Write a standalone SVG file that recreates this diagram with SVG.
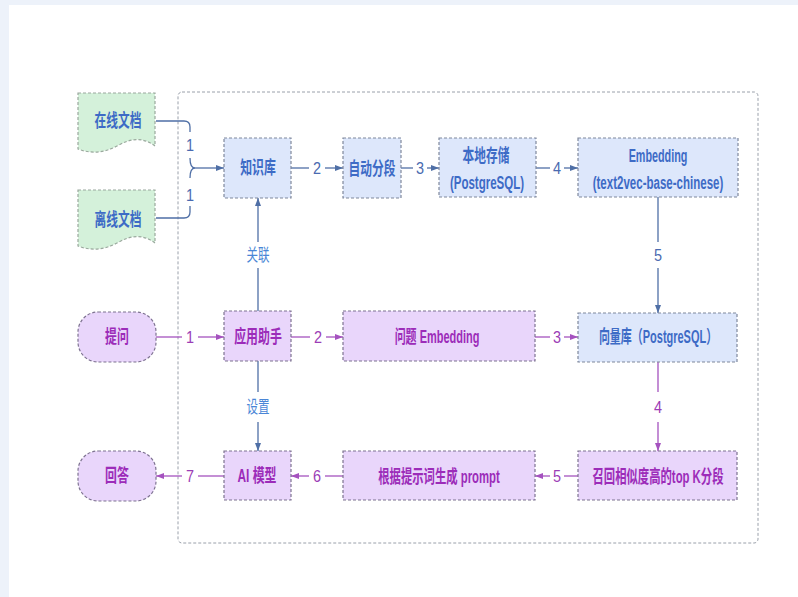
<svg xmlns="http://www.w3.org/2000/svg" width="798" height="597" viewBox="0 0 798 597">
<defs>
<style>
.t{font-family:"Liberation Sans","Noto Sans CJK SC",sans-serif;font-size:18px;font-weight:bold;text-anchor:middle;dominant-baseline:central}
.d{font-family:"Liberation Sans","Noto Sans CJK SC",sans-serif;font-size:17px;font-weight:normal;text-anchor:middle;dominant-baseline:central}
.tb{fill:#3d6bc6}
.tp{fill:#9c2cb9}
.nb{fill:#dde7fb;stroke:#7f889c;stroke-width:1.2;stroke-dasharray:3 2}
.np{fill:#e9d6fb;stroke:#7d7290;stroke-width:1.2;stroke-dasharray:3 2}
.ng{fill:#d4f1da;stroke:#9aa89d;stroke-width:1.2;stroke-dasharray:3 2}
.eb{fill:none;stroke:#4f6fa6;stroke-width:1.3}
.ep{fill:none;stroke:#a552bf;stroke-width:1.3}
.lb{fill:#4a6ab0}
.lp{fill:#9c3db6}
.ll{fill:#4a86d6}
</style>
<marker id="ab" viewBox="0 0 8 6" refX="8" refY="3" markerWidth="8" markerHeight="6" markerUnits="userSpaceOnUse" orient="auto"><path d="M0,0 L8,3 L0,6 z" fill="#4f6fa6"/></marker>
<marker id="ap" viewBox="0 0 8 6" refX="8" refY="3" markerWidth="8" markerHeight="6" markerUnits="userSpaceOnUse" orient="auto"><path d="M0,0 L8,3 L0,6 z" fill="#a552bf"/></marker>
</defs>
<rect x="0" y="0" width="798" height="597" fill="#edf2fa"/>
<rect x="9" y="5" width="789" height="592" fill="#ffffff"/>
<rect id="container" x="178" y="92" width="580" height="451" rx="4" fill="none" stroke="#9aa0aa" stroke-width="1" stroke-dasharray="3 2"/>

<g id="connectors">
<path class="eb" d="M156,121 H184 Q190,121 190,127 V132"/>
<text class="d lb" transform="translate(190,145) scale(0.85,1)">1</text>
<path class="eb" d="M190,158 Q190,168 195,168 M190,178 Q190,168 195,168"/>
<path class="eb" d="M195,168 H224" marker-end="url(#ab)"/>
<text class="d lb" transform="translate(190,195) scale(0.85,1)">1</text>
<path class="eb" d="M156,218 H184 Q190,218 190,212 V206"/>
<path class="eb" d="M291,168 H309"/><text class="d lb" transform="translate(317,168) scale(0.85,1)">2</text><path class="eb" d="M325,168 H343" marker-end="url(#ab)"/>
<path class="eb" d="M401,168 H413"/><text class="d lb" transform="translate(420,168) scale(0.85,1)">3</text><path class="eb" d="M427,168 H439" marker-end="url(#ab)"/>
<path class="eb" d="M536,168 H550"/><text class="d lb" transform="translate(557,168) scale(0.85,1)">4</text><path class="eb" d="M564,168 H578" marker-end="url(#ab)"/>
<path class="eb" d="M658,197 V242"/><text class="d lb" transform="translate(658,255) scale(0.85,1)">5</text><path class="eb" d="M658,268 V313" marker-end="url(#ab)"/>
<path class="eb" d="M258,311 V268"/><text class="d ll" transform="translate(258,255) scale(0.68,1)">关联</text><path class="eb" d="M258,242 V198" marker-end="url(#ab)"/>
<path class="eb" d="M258,361 V392"/><text class="d ll" transform="translate(258,407) scale(0.68,1)">设置</text><path class="eb" d="M258,422 V451" marker-end="url(#ab)"/>
<path class="ep" d="M156,337 H182"/><text class="d lp" transform="translate(190,337) scale(0.85,1)">1</text><path class="ep" d="M198,337 H224" marker-end="url(#ap)"/>
<path class="ep" d="M291,337 H310"/><text class="d lp" transform="translate(318,337) scale(0.85,1)">2</text><path class="ep" d="M326,337 H343" marker-end="url(#ap)"/>
<path class="ep" d="M535,337 H550"/><text class="d lp" transform="translate(557,337) scale(0.85,1)">3</text><path class="ep" d="M564,337 H578" marker-end="url(#ap)"/>
<path class="ep" d="M658,362 V392"/><text class="d lp" transform="translate(658,407) scale(0.85,1)">4</text><path class="ep" d="M658,422 V451" marker-end="url(#ap)"/>
<path class="ep" d="M578,476 H564"/><text class="d lp" transform="translate(557,476) scale(0.85,1)">5</text><path class="ep" d="M550,476 H535" marker-end="url(#ap)"/>
<path class="ep" d="M343,476 H325"/><text class="d lp" transform="translate(317,476) scale(0.85,1)">6</text><path class="ep" d="M309,476 H291" marker-end="url(#ap)"/>
<path class="ep" d="M224,476 H198"/><text class="d lp" transform="translate(190,476) scale(0.85,1)">7</text><path class="ep" d="M182,476 H156" marker-end="url(#ap)"/>
</g>

<g id="n-online"><path class="ng" d="M78,93 H155 V146 C143,137 131,138 117,146 C104,153 91,154 78,149 Z"/><text class="t tb" transform="translate(118,120) scale(0.65,1)">在线文档</text></g>
<g id="n-offline"><path class="ng" d="M78,190 H155 V243 C143,234 131,235 117,243 C104,250 91,251 78,246 Z"/><text class="t tb" transform="translate(118,219) scale(0.65,1)">离线文档</text></g>
<g id="n-kb"><rect class="nb" x="224" y="138" width="67" height="60"/><text class="t tb" transform="translate(258,168) scale(0.66,1)">知识库</text></g>
<g id="n-split"><rect class="nb" x="343" y="138" width="58" height="60"/><text class="t tb" transform="translate(372,168) scale(0.65,1)">自动分段</text></g>
<g id="n-store"><rect class="nb" x="439" y="138" width="97" height="59"/><text class="t tb" transform="translate(486,155) scale(0.65,1)">本地存储</text><text class="t tb" transform="translate(487,182) scale(0.64,1)">(PostgreSQL)</text></g>
<g id="n-emb"><rect class="nb" x="578" y="138" width="160" height="59"/><text class="t tb" transform="translate(658,156) scale(0.6,1)">Embedding</text><text class="t tb" transform="translate(658,182) scale(0.64,1)">(text2vec-base-chinese)</text></g>

<g id="n-ask"><rect class="np" x="78" y="312" width="78" height="50" rx="20"/><text class="t tp" transform="translate(117,337) scale(0.66,1)">提问</text></g>
<g id="n-app"><rect class="np" x="224" y="311" width="67" height="50"/><text class="t tp" transform="translate(258,337) scale(0.66,1)">应用助手</text></g>
<g id="n-qemb"><rect class="np" x="343" y="311" width="192" height="50"/><text class="t tp" transform="translate(437,337) scale(0.61,1)">问题 Embedding</text></g>
<g id="n-vec"><rect class="nb" x="578" y="313" width="159" height="49"/><text class="t tb" transform="translate(658,337) scale(0.61,1)">向量库（PostgreSQL）</text></g>

<g id="n-answer"><rect class="np" x="78" y="451" width="78" height="50" rx="20"/><text class="t tp" transform="translate(117,476) scale(0.66,1)">回答</text></g>
<g id="n-ai"><rect class="np" x="224" y="451" width="67" height="49"/><text class="t tp" transform="translate(257,476) scale(0.66,1)">AI 模型</text></g>
<g id="n-prompt"><rect class="np" x="343" y="451" width="192" height="49"/><text class="t tp" transform="translate(439,476) scale(0.63,1)">根据提示词生成 prompt</text></g>
<g id="n-recall"><rect class="np" x="578" y="451" width="159" height="49"/><text class="t tp" transform="translate(658,476) scale(0.63,1)">召回相似度高的top K分段</text></g>
</svg>
